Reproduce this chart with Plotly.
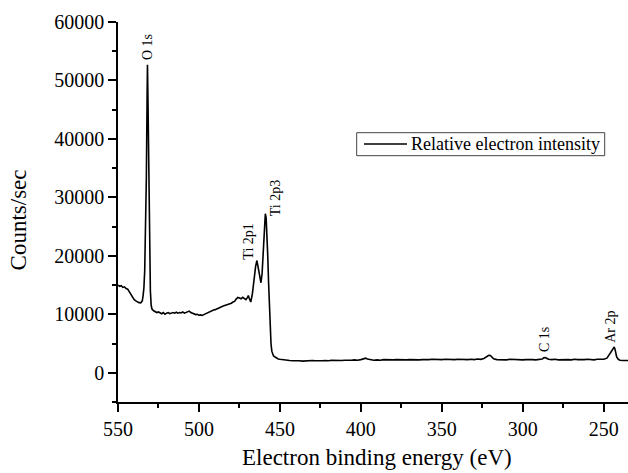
import plotly.graph_objects as go

energy = [550, 549, 548, 547, 546, 545, 544, 543, 542, 541, 540, 539, 538, 537, 536, 535, 534.5, 534, 533.5, 533, 532.5, 532, 531.8, 531.5, 531, 530.5, 530, 529.5, 529, 528, 527, 526, 525, 524, 523, 522, 521, 520, 519, 518, 517, 516, 515, 514, 513, 512, 511, 510, 509, 508, 507, 506, 505, 504, 503, 502, 501, 500, 499, 498, 497, 496, 495, 494, 493, 492, 491, 490, 489, 488, 487, 486, 485, 484, 483, 482, 481, 480, 479, 478, 477, 476, 475, 474, 473, 472, 471, 470, 469.5, 469, 468, 467, 466, 465, 464.2, 463.5, 462.5, 461.7, 461, 460.5, 460, 459.5, 459, 458.5, 458, 457.5, 457, 456.5, 456, 455.5, 455, 454.5, 454, 453, 452, 451, 450, 449, 448, 446, 444, 442, 440, 438, 436, 434, 432, 430, 428, 426, 424, 422, 420, 418, 416, 414, 412, 410, 408, 406, 404, 402, 400, 398, 397, 396, 394, 392, 390, 388, 386, 384, 382, 380, 378, 376, 374, 372, 370, 368, 366, 364, 362, 360, 358, 356, 354, 352, 350, 348, 346, 344, 342, 340, 338, 336, 334, 332, 330, 328, 326, 324, 322, 321, 320, 319, 318, 316, 314, 312, 310, 308, 306, 304, 302, 300, 298, 296, 294, 292, 290, 288, 287, 286, 285, 284, 282, 280, 278, 276, 274, 272, 270, 268, 266, 264, 262, 260, 258, 256, 254, 252, 250, 248, 247, 246, 245, 244, 243.5, 243, 242.5, 242, 241, 240, 238, 236, 235]

counts = [15000, 14800, 14900, 14600, 14700, 14400, 14300, 13800, 13300, 12800, 12500, 12300, 12100, 12000, 11950, 12300, 13200, 14500, 17500, 23000, 33000, 48000, 52700, 47000, 35000, 22000, 14000, 11500, 10900, 10600, 10500, 10300, 10400, 10200, 10100, 10300, 10000, 10200, 10300, 10100, 10200, 10300, 10200, 10350, 10200, 10300, 10250, 10400, 10200, 10300, 10350, 10550, 10300, 10200, 10100, 9950, 10000, 9850, 9900, 9800, 9950, 10100, 10200, 10300, 10500, 10600, 10750, 10800, 10950, 11050, 11200, 11300, 11400, 11500, 11550, 11700, 11800, 11900, 12100, 12200, 12600, 12900, 12800, 12650, 12900, 12700, 12500, 12900, 13200, 12800, 12100, 13500, 16000, 18200, 19200, 18000, 16000, 15400, 17000, 20000, 23500, 26000, 27200, 26500, 24000, 20000, 15500, 11000, 7500, 5000, 3700, 3200, 2900, 2700, 2500, 2350, 2300, 2250, 2200, 2150, 2100, 2050, 2100, 2050, 2000, 2050, 2000, 2100, 2050, 2000, 2050, 2100, 2050, 2150, 2100, 2050, 2100, 2150, 2100, 2150, 2200, 2150, 2250, 2400, 2500, 2350, 2200, 2150, 2200, 2150, 2250, 2200, 2150, 2200, 2250, 2200, 2150, 2200, 2250, 2200, 2150, 2200, 2250, 2200, 2250, 2300, 2250, 2200, 2250, 2300, 2250, 2200, 2250, 2300, 2250, 2200, 2250, 2300, 2250, 2350, 2300, 2450, 2800, 3000, 2950, 2650, 2400, 2250, 2200, 2250, 2200, 2300, 2250, 2200, 2250, 2200, 2250, 2300, 2250, 2200, 2300, 2350, 2550, 2600, 2450, 2300, 2250, 2300, 2200, 2250, 2300, 2250, 2200, 2300, 2250, 2200, 2250, 2300, 2250, 2200, 2300, 2250, 2300, 2500, 2900, 3500, 3800, 4300, 4400, 4000, 3300, 2700, 2300, 2150, 2100, 2150, 2100]

series_name = "Relative electron intensity"

peak_labels = ["O 1s", "Ti 2p1", "Ti 2p3", "C 1s", "Ar 2p"]
peak_label_x = [531.9, 469.1, 452.2, 286.6, 245.4]
peak_label_y = [53200, 19000, 26500, 3200, 4800]

x_ticks = [550, 500, 450, 400, 350, 300, 250]
y_ticks = [0, 10000, 20000, 30000, 40000, 50000, 60000]

FONT = "Liberation Serif, Times New Roman, serif"

fig = go.Figure()
fig.add_trace(go.Scatter(
    x=energy, y=counts, mode="lines",
    line=dict(color="black", width=1.6),
    name=series_name, showlegend=False,
))

annotations = []
for t, x, y in zip(peak_labels, peak_label_x, peak_label_y):
    annotations.append(dict(
        x=x, y=y, xref="x", yref="y", text=t, showarrow=False,
        textangle=-90, xanchor="center", yanchor="bottom",
        font=dict(family=FONT, size=14, color="black"),
    ))
annotations.append(dict(
    x=0.507, y=-0.147, xref="paper", yref="paper",
    text="Electron binding energy (eV)", showarrow=False,
    xanchor="center", yanchor="middle",
    font=dict(family=FONT, size=23, color="black"),
))
annotations.append(dict(
    x=-0.196, y=0.478, xref="paper", yref="paper",
    text="Counts/sec", showarrow=False, textangle=-90,
    xanchor="center", yanchor="middle",
    font=dict(family=FONT, size=23, color="black"),
))
# legend entry (box, line sample, label)
annotations.append(dict(
    x=0.571, y=0.6789, xref="paper", yref="paper",
    text=series_name, showarrow=False,
    xanchor="left", yanchor="middle",
    font=dict(family=FONT, size=18, color="black"),
))

shapes = [
    dict(type="rect", xref="paper", yref="paper",
         x0=0.468, x1=0.9543, y0=0.6482, y1=0.7087,
         line=dict(color="#444", width=1), fillcolor="white", layer="below"),
    dict(type="line", xref="paper", yref="paper",
         x0=0.4824, x1=0.5667, y0=0.6789, y1=0.6789,
         line=dict(color="black", width=1.6)),
]

fig.update_layout(
    width=628, height=473,
    margin=dict(l=118, r=0, t=22, b=71),
    paper_bgcolor="white", plot_bgcolor="white",
    font=dict(family=FONT, size=20, color="black"),
    showlegend=False,
    annotations=annotations,
    shapes=shapes,
)

fig.update_xaxes(
    range=[550, 235], showgrid=False, zeroline=False,
    showline=True, linecolor="black", linewidth=1.5,
    tickmode="array", tickvals=x_ticks, ticktext=[str(v) for v in x_ticks],
    ticks="outside", ticklen=8, tickwidth=1.5, tickcolor="black",
    minor=dict(dtick=25, tick0=0, ticks="outside", ticklen=4, tickwidth=1.5, tickcolor="black"),
    tickfont=dict(family=FONT, size=20, color="black"),
)
fig.update_yaxes(
    range=[-5000, 60000], showgrid=False, zeroline=False,
    showline=True, linecolor="black", linewidth=1.5,
    tickmode="array", tickvals=y_ticks, ticktext=[str(v) for v in y_ticks],
    ticks="outside", ticklen=8, tickwidth=1.5, tickcolor="black",
    minor=dict(dtick=5000, tick0=0, ticks="outside", ticklen=4, tickwidth=1.5, tickcolor="black"),
    tickfont=dict(family=FONT, size=20, color="black"),
)

fig.write_html("out.html")
